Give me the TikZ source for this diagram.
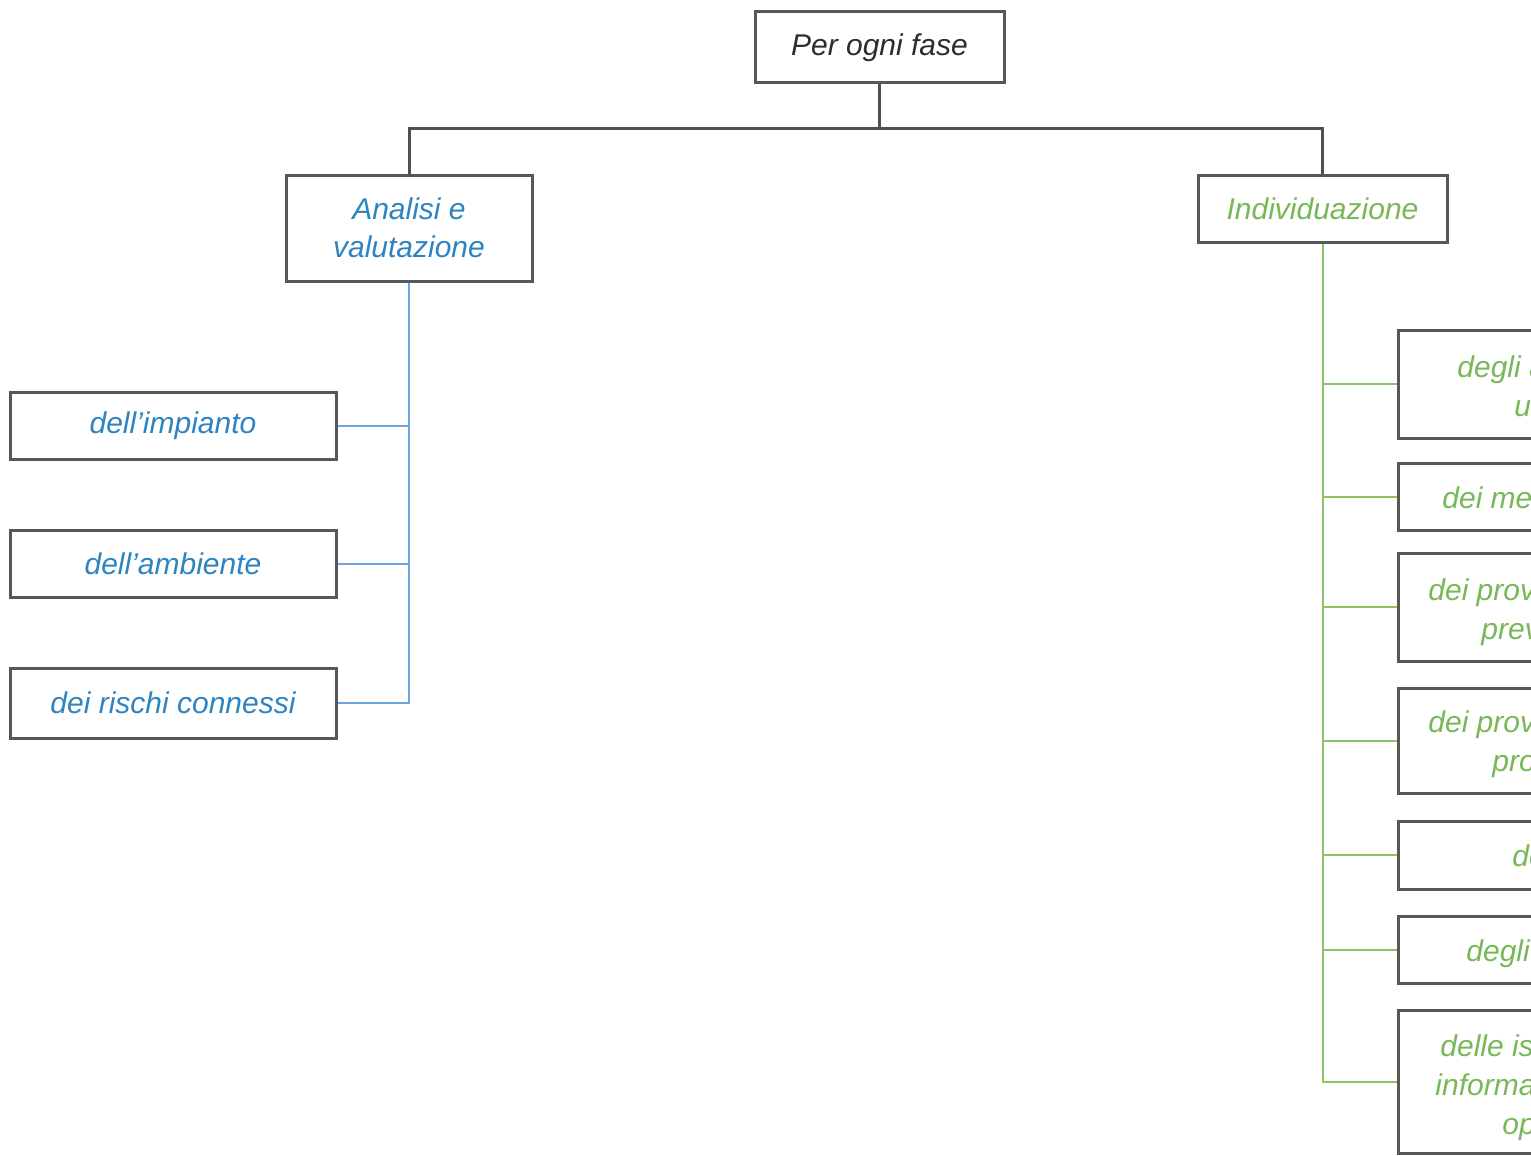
\documentclass[tikz,border=0pt]{standalone}
\usepackage{fontspec}
\setmainfont{Liberation Sans}
\definecolor{boxgray}{RGB}{88,88,90}
\definecolor{topgray}{RGB}{45,45,45}
\definecolor{linegray}{RGB}{80,80,84}
\definecolor{bluetxt}{RGB}{46,132,192}
\definecolor{blueline}{RGB}{108,166,220}
\definecolor{greentxt}{RGB}{120,184,88}
\definecolor{greenline}{RGB}{138,196,100}
\begin{document}
\begin{tikzpicture}[x=0.5pt,y=-0.5pt,
  box/.style={draw=boxgray, line width=1.5pt, fill=white, inner sep=0pt,
    font=\fontsize{15}{19}\selectfont\itshape, align=center},
  rbox/.style={draw=boxgray, line width=1.5pt, fill=white, inner sep=0pt,
    anchor=west, minimum width=180pt},
  frag/.style={anchor=base west, inner sep=0pt,
    font=\fontsize{15}{19}\selectfont\itshape, text=greentxt},
  darkline/.style={draw=linegray, line width=1.5pt},
  bline/.style={draw=blueline, line width=1pt},
  gline/.style={draw=greenline, line width=1pt}]
\useasboundingbox (0,0) rectangle (1531,1156);
\clip (0,0) rectangle (1531,1156);
\fill[white] (0,0) rectangle (1531,1156);

% top level
\node[box, minimum width=124.5pt, minimum height=35.5pt, text=topgray] (top) at (879.5,47.5) {Per ogni fase};
\node[box, minimum width=123pt, minimum height=53pt, text=bluetxt] (ana) at (409,228) {Analisi e\\valutazione};
\node[box, minimum width=124.5pt, minimum height=33.5pt, text=greentxt] (ind) at (1322.5,208.5) {Individuazione};

% left column
\node[box, minimum width=163pt, minimum height=33.5pt, text=bluetxt] (imp) at (173,425.5) {dell’impianto};
\node[box, minimum width=163pt, minimum height=33.5pt, text=bluetxt] (amb) at (173,563.5) {dell’ambiente};
\node[box, minimum width=163pt, minimum height=35pt, text=bluetxt] (ris) at (173,703) {dei rischi connessi};

% right column (cut by the picture edge)
\node[rbox, minimum height=54pt] (r1) at (1397,384) {};
\node[rbox, minimum height=33.5pt] (r2) at (1397,496.5) {};
\node[rbox, minimum height=54pt] (r3) at (1397,607) {};
\node[rbox, minimum height=52.5pt] (r4) at (1397,740.5) {};
\node[rbox, minimum height=34pt] (r5) at (1397,855) {};
\node[rbox, minimum height=33.5pt] (r6) at (1397,949.5) {};
\node[rbox, minimum height=71.5pt] (r7) at (1397,1081.5) {};

\node[frag] (t1a) at (1457,377) {degli a};
\node[frag] (t1b) at (1514,416) {u};
\node[frag] (t2a) at (1442,508) {dei me};
\node[frag] (t3a) at (1428,600) {dei prov};
\node[frag] (t3b) at (1481,639) {prev};
\node[frag] (t4a) at (1428,732) {dei prov};
\node[frag] (t4b) at (1492,771) {pro};
\node[frag] (t5a) at (1512,866) {de};
\node[frag] (t6a) at (1466,961) {degli};
\node[frag] (t7a) at (1440,1056) {delle is};
\node[frag] (t7b) at (1435,1095) {informa};
\node[frag] (t7c) at (1502,1134) {op};

% top connectors
\coordinate (bus) at (0,129);
\draw[darkline] (top.south) -- (top.south |- bus);
\draw[darkline] (ana.north) -- (ana.north |- bus) -| (ind.north);

% blue connectors
\draw[bline] (ana.south) -- (ana.south |- ris.east) -- (ris.east);
\draw[bline] (imp.east) -- (imp.east -| ana.south);
\draw[bline] (amb.east) -- (amb.east -| ana.south);

% green connectors
\draw[gline] (ind.south) -- (ind.south |- r7.west) -- (r7.west);
\foreach \n in {r1,r2,r3,r4,r5,r6}
  \draw[gline] (\n.west) -- (\n.west -| ind.south);
\end{tikzpicture}
\end{document}
